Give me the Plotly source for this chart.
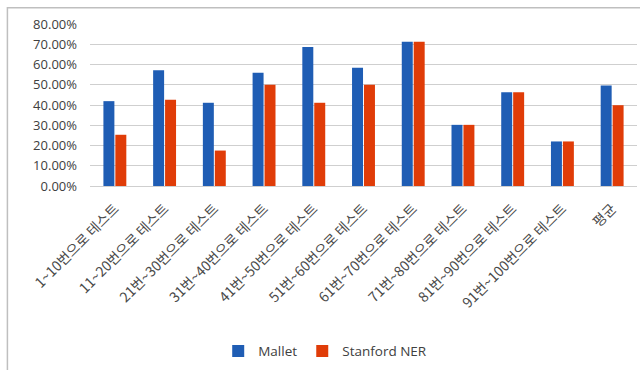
import plotly.graph_objects as go

categories = [
    "1~10번으로 테스트", "11~20번으로 테스트", "21번~30번으로 테스트",
    "31번~40번으로 테스트", "41번~50번으로 테스트", "51번~60번으로 테스트",
    "61번~70번으로 테스트", "71번~80번으로 테스트", "81번~90번으로 테스트",
    "91번~100번으로 테스트", "평균",
]
mallet = [0.419, 0.572, 0.411, 0.559, 0.687, 0.584, 0.712, 0.302, 0.463, 0.220, 0.496]
stanford = [0.253, 0.426, 0.175, 0.500, 0.411, 0.500, 0.712, 0.302, 0.463, 0.220, 0.399]

font_family = "Open Sans, Noto Sans CJK KR, sans-serif"

fig = go.Figure()
fig.add_trace(go.Bar(name="Mallet", x=categories, y=mallet,
                     marker=dict(color="#1F5DB4", line=dict(width=0))))
fig.add_trace(go.Bar(name="Stanford NER", x=categories, y=stanford,
                     marker=dict(color="#E03C08", line=dict(width=0))))

fig.update_layout(
    width=640, height=370,
    margin=dict(l=90, r=3, t=24, b=184, autoexpand=False),
    paper_bgcolor="white", plot_bgcolor="white",
    barmode="group", bargap=0.52, bargroupgap=0.08,
    font=dict(family=font_family, size=12, color="#404040"),
    showlegend=True,
    legend=dict(orientation="h", x=0.43, xanchor="center", y=-1.02, yanchor="middle",
                font=dict(size=13.5, color="#404040"), itemwidth=30,
                traceorder="normal"),
    shapes=[dict(type="rect", xref="paper", yref="paper",
                 x0=-0.151, x1=1.05, y0=-1.3, y1=1.1,
                 line=dict(color="#BFBFBF", width=1.5), layer="below")],
)
fig.update_yaxes(range=[0, 0.8], dtick=0.1, tickformat=".2%",
                 showgrid=True, gridcolor="#CFCFCF", gridwidth=1.3,
                 zeroline=False, showline=False, ticks="",
                 tickfont=dict(size=13, color="#404040"), ticklabelstandoff=12)
fig.update_xaxes(tickangle=-45, showline=True, linecolor="#CFCFCF", linewidth=1.3,
                 ticks="", tickfont=dict(family="Noto Sans CJK KR, sans-serif",
                                         size=14, color="#4A4A4A"),
                 ticklabelstandoff=8, automargin=False)

fig.write_html("out.html")
